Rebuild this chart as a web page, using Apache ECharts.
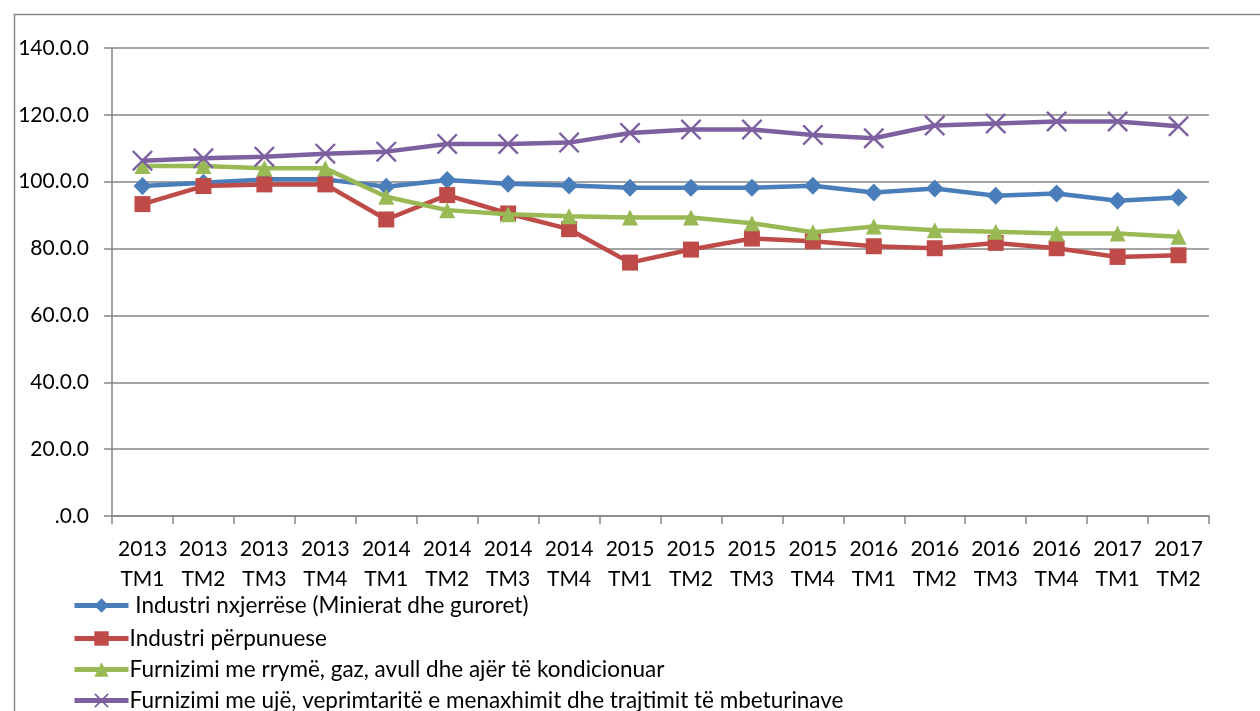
<!DOCTYPE html>
<html>
<head>
<meta charset="utf-8">
<script src="https://cdn.jsdelivr.net/npm/echarts@6/dist/echarts.min.js"></script>
<style>html,body{margin:0;padding:0;background:#fff;}#c{width:1260px;height:711px;}</style>
</head>
<body>
<div id="c"></div>
<script>
const categories = ['2013\nTM1','2013\nTM2','2013\nTM3','2013\nTM4','2014\nTM1','2014\nTM2','2014\nTM3','2014\nTM4','2015\nTM1','2015\nTM2','2015\nTM3','2015\nTM4','2016\nTM1','2016\nTM2','2016\nTM3','2016\nTM4','2017\nTM1','2017\nTM2'];
const seriesNames = [' Industri nxjerrëse (Minierat dhe guroret)', 'Industri përpunuese', 'Furnizimi me rrymë, gaz, avull dhe ajër të kondicionuar', 'Furnizimi me ujë, veprimtaritë e menaxhimit dhe trajtimit të mbeturinave'];
const nxjerrese = [98.7, 99.7, 100.7, 100.7, 98.5, 100.5, 99.4, 98.9, 98.2, 98.2, 98.2, 98.8, 96.8, 98.0, 95.8, 96.5, 94.3, 95.3];
const perpunuese = [93.3, 98.7, 99.2, 99.2, 88.7, 96.0, 90.5, 85.8, 75.8, 79.7, 83.0, 82.2, 80.7, 80.1, 81.7, 80.1, 77.5, 78.0];
const rryme = [104.7, 104.7, 104.0, 104.0, 95.5, 91.5, 90.3, 89.7, 89.3, 89.3, 87.6, 84.9, 86.6, 85.5, 85.0, 84.5, 84.5, 83.5];
const uje = [106.3, 107.0, 107.5, 108.4, 109.0, 111.3, 111.3, 111.7, 114.6, 115.6, 115.6, 114.0, 113.0, 116.8, 117.4, 118.0, 118.0, 116.6];
const yTickValues = [0, 20, 40, 60, 80, 100, 120, 140];
const yTickLabels = ['.0.0', '20.0.0', '40.0.0', '60.0.0', '80.0.0', '100.0.0', '120.0.0', '140.0.0'];

const colors = ['#4A7EBB', '#BE4B48', '#98B954', '#7D60A0'];
const xPath = 'path://M0,0.8L0.8,0L5,4.2L9.2,0L10,0.8L5.8,5L10,9.2L9.2,10L5,5.8L0.8,10L0,9.2L4.2,5Z';
const symbols = ['diamond', 'rect', 'triangle', xPath];
const sizes = [18, 16, 16, 21];
const dataSets = [nxjerrese, perpunuese, rryme, uje];
const font = 'Lato, "Open Sans", sans-serif';
const legendTops = [594, 627, 658, 689];

const chart = echarts.init(document.getElementById('c'));
chart.setOption({
  animation: false,
  color: colors,
  graphic: [{
    type: 'rect', left: 12, top: 12,
    shape: { width: 1400, height: 900 },
    style: { fill: 'none', stroke: '#8a8a8a', lineWidth: 1.5 }, silent: true
  }],
  grid: { left: 112, top: 48, right: 51, bottom: 195, containLabel: false },
  legend: seriesNames.map((n, i) => ({
    orient: 'vertical', left: 72, top: legendTops[i], itemWidth: 54, itemHeight: 18, padding: 0,
    textStyle: { fontFamily: font, fontSize: 22.5, color: '#000', padding: [0, 0, 0, -4] },
    lineStyle: { width: 5 },
    data: [n]
  })),
  xAxis: {
    type: 'category', data: categories, boundaryGap: true,
    axisLine: { lineStyle: { color: '#868686', width: 1.5 } },
    axisTick: { show: true, interval: 0, length: 8, lineStyle: { color: '#868686', width: 1.5 } },
    axisLabel: { interval: 0, fontFamily: font, fontSize: 21, color: '#000', lineHeight: 30, margin: 18 }
  },
  yAxis: {
    type: 'value', min: 0, max: 140, interval: 20,
    axisLine: { show: true, lineStyle: { color: '#868686', width: 1.5 } },
    axisTick: { show: true, length: 8, lineStyle: { color: '#868686', width: 1.5 } },
    splitLine: { lineStyle: { color: '#868686', width: 1.5 } },
    axisLabel: {
      fontFamily: font, fontSize: 21, color: '#000', margin: 23,
      formatter: v => yTickLabels[yTickValues.indexOf(v)]
    }
  },
  series: seriesNames.map((n, i) => ({
    name: n, type: 'line', data: dataSets[i],
    symbol: symbols[i], symbolSize: sizes[i], showSymbol: true,
    lineStyle: { width: 4.5, color: colors[i] },
    itemStyle: { color: colors[i] },
    z: 2 + i
  }))
});
</script>
</body>
</html>
